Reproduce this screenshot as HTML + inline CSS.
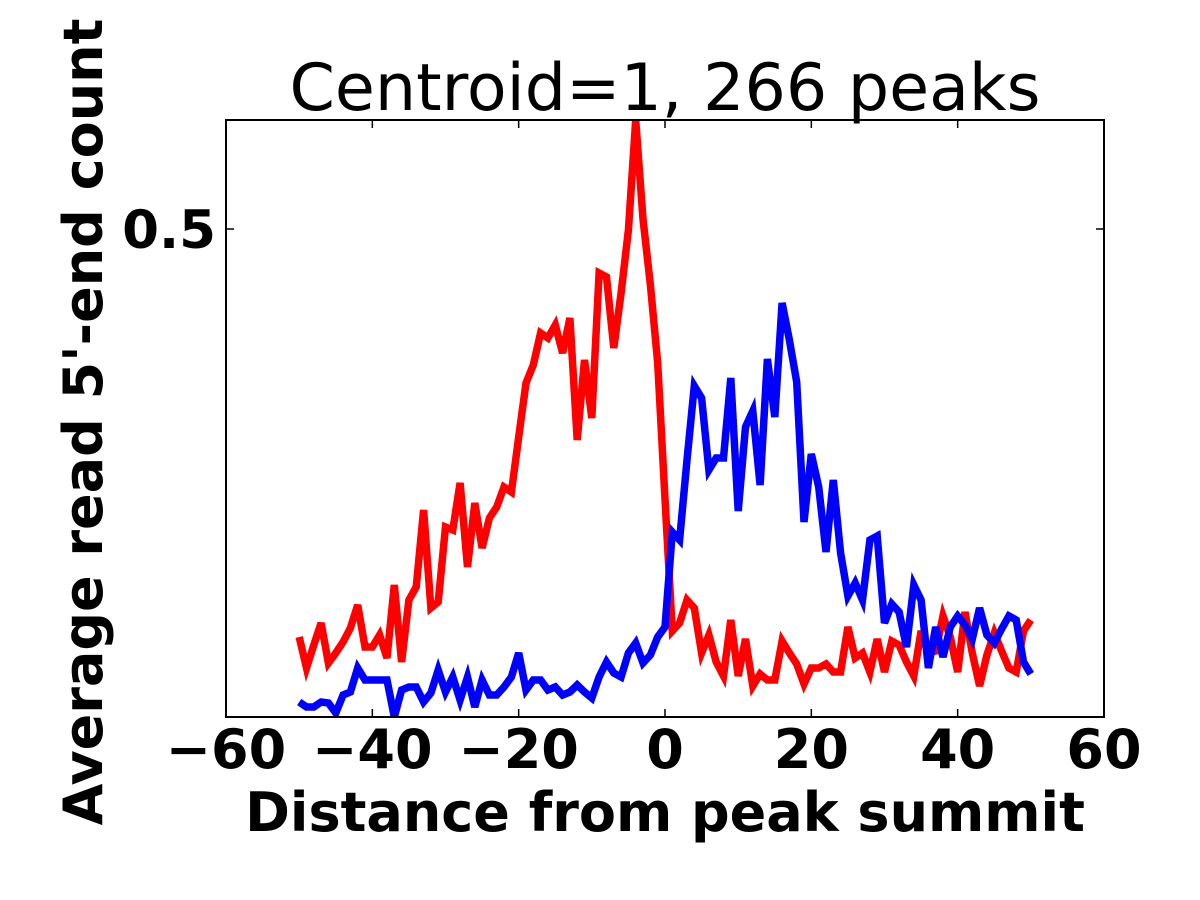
<!DOCTYPE html>
<html><head><meta charset="utf-8"><style>
body{margin:0;background:#fff;}
svg{display:block;font-family:"DejaVu Sans","Liberation Sans",sans-serif;}
</style></head><body>
<svg id="chart" width="1200" height="900" viewBox="0 0 1200 900">
<rect x="0" y="0" width="1200" height="900" fill="#fff"/>
<text x="665" y="110" text-anchor="middle" font-size="65">Centroid=1, 266 peaks</text>
<g id="plot"></g>
<text x="665" y="831" text-anchor="middle" font-size="54" font-weight="bold">Distance from peak summit</text>
<text transform="translate(102,422) rotate(-90)" text-anchor="middle" font-size="54" font-weight="bold">Average read 5'-end count</text>
</svg>
<script>
const xStart = -50;
const redValues = [0.092,0.061,0.084,0.106,0.066,0.076,0.087,0.101,0.124,0.082,
0.082,0.094,0.071,0.144,0.067,0.129,0.142,0.219,0.121,0.127,
0.202,0.199,0.246,0.162,0.226,0.181,0.211,0.222,0.242,0.237,
0.292,0.346,0.364,0.396,0.391,0.404,0.376,0.411,0.289,0.369,
0.311,0.456,0.452,0.381,0.436,0.499,0.609,0.510,0.444,0.366,
0.230,0.098,0.106,0.129,0.121,0.076,0.094,0.067,0.053,0.109,
0.053,0.090,0.043,0.055,0.049,0.049,0.088,0.076,0.065,0.045,
0.061,0.061,0.065,0.057,0.057,0.102,0.071,0.076,0.057,0.090,
0.057,0.088,0.084,0.067,0.053,0.098,0.076,0.078,0.113,0.092,
0.057,0.117,0.076,0.043,0.074,0.096,0.078,0.061,0.057,0.098,0.109];
const blueValues = [0.027,0.022,0.022,0.027,0.026,0.016,0.034,0.037,0.061,0.049,
0.049,0.049,0.049,0.012,0.039,0.042,0.042,0.027,0.036,0.059,
0.037,0.052,0.029,0.052,0.022,0.049,0.034,0.034,0.042,0.052,
0.076,0.039,0.049,0.049,0.039,0.042,0.034,0.037,0.044,0.037,
0.031,0.052,0.067,0.056,0.052,0.076,0.086,0.066,0.074,0.092,
0.102,0.197,0.189,0.269,0.343,0.331,0.259,0.271,0.271,0.351,
0.218,0.302,0.318,0.244,0.370,0.312,0.426,0.389,0.347,0.207,
0.275,0.242,0.177,0.249,0.176,0.133,0.146,0.129,0.189,0.193,
0.106,0.125,0.117,0.082,0.144,0.129,0.061,0.102,0.072,0.102,
0.113,0.104,0.090,0.121,0.094,0.086,0.100,0.113,0.109,0.067,0.055];
const xTicks = [-60,-40,-20,0,20,40,60];
const yTicks = [0.5];
const xMin=-60,xMax=60,yMin=0.012,yMax=0.609;
const L=226,R=1104,T=120,B=717;
const sx=v=>L+(v-xMin)/(xMax-xMin)*(R-L);
const sy=v=>B-(v-yMin)/(yMax-yMin)*(B-T);
const NS='http://www.w3.org/2000/svg';
const plot=document.getElementById('plot');
function mk(tag,attrs){const e=document.createElementNS(NS,tag);for(const k in attrs)e.setAttribute(k,attrs[k]);return e;}
const clip=mk('clipPath',{id:'clp'});clip.appendChild(mk('rect',{x:L,y:T,width:R-L,height:B-T}));plot.appendChild(clip);
function series(vals,color,name){
  const pts=vals.map((v,i)=>sx(xStart+i).toFixed(1)+','+sy(v).toFixed(1)).join(' ');
  const p=mk('polyline',{points:pts,fill:'none',stroke:color,'stroke-width':7.5,'stroke-linejoin':'miter','clip-path':'url(#clp)'});
  
  
  plot.appendChild(p);
}
series(redValues,'#ff0000','red-series-line');
series(blueValues,'#0000ff','blue-series-line');
const frame=mk('rect',{x:L,y:T,width:R-L,height:B-T,fill:'none',stroke:'#000','stroke-width':2});


plot.appendChild(frame);
xTicks.forEach(t=>{
  const x=sx(t);
  const a=mk('line',{x1:x,x2:x,y1:B,y2:B-8,stroke:'#000','stroke-width':1.5});
  
  
  plot.appendChild(a);
  const b=mk('line',{x1:x,x2:x,y1:T,y2:T+8,stroke:'#000','stroke-width':1.5});
  
  
  plot.appendChild(b);
  const tx=mk('text',{x:x,y:768,'text-anchor':'middle','font-size':54,'font-weight':'bold'});
  tx.textContent=(t<0?'\u2212':'')+Math.abs(t);
  
  
  plot.appendChild(tx);
});
yTicks.forEach(t=>{
  const y=sy(t);
  const a=mk('line',{x1:L,x2:L+8,y1:y,y2:y,stroke:'#000','stroke-width':1.5});
  
  
  plot.appendChild(a);
  const b=mk('line',{x1:R,x2:R-8,y1:y,y2:y,stroke:'#000','stroke-width':1.5});
  
  
  plot.appendChild(b);
  const tx=mk('text',{x:216,y:y+19,'text-anchor':'end','font-size':53,'font-weight':'bold'});
  tx.textContent=t.toFixed(1);
  
  
  plot.appendChild(tx);
});
</script>
</body></html>
